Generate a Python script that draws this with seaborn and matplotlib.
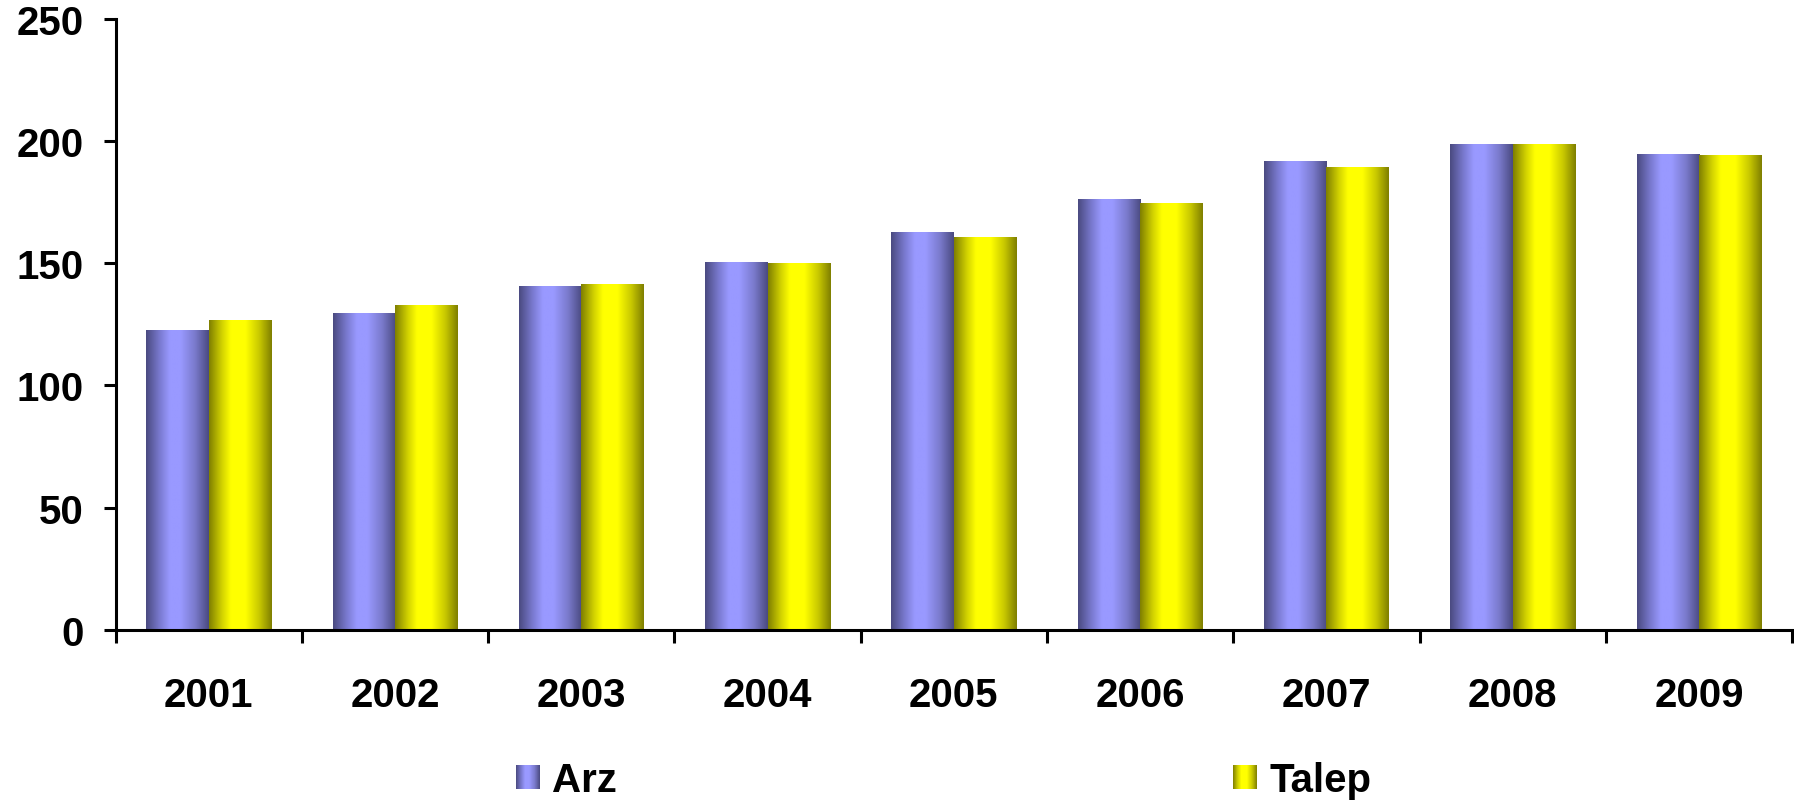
import numpy as np
import pandas as pd
import matplotlib
matplotlib.use("Agg")
import matplotlib.pyplot as plt
from matplotlib.colors import LinearSegmentedColormap
from matplotlib.patches import Rectangle
from matplotlib.legend_handler import HandlerBase
from matplotlib.ticker import MultipleLocator, FixedLocator
import seaborn as sns

years = ["2001", "2002", "2003", "2004", "2005", "2006", "2007", "2008", "2009"]
arz = [122.5, 129.4, 140.5, 150.3, 162.3, 176.1, 191.6, 198.6, 194.5]
talep = [126.5, 132.7, 141.4, 149.8, 160.6, 174.4, 189.2, 198.6, 194.1]
series_names = ["Arz", "Talep"]

# cylinder-like shading: dark edge -> light band -> dark edge
shade = {
    "Arz": LinearSegmentedColormap.from_list(
        "arz", [(0.0, "#4a4a80"), (0.22, "#7a7ad0"), (0.38, "#9999ff"),
                (0.55, "#9999ff"), (0.78, "#7a7acc"), (1.0, "#4a4a80")]),
    "Talep": LinearSegmentedColormap.from_list(
        "talep", [(0.0, "#7f7f00"), (0.2, "#d0d000"), (0.35, "#ffff00"),
                  (0.58, "#ffff00"), (0.8, "#c8c800"), (1.0, "#7f7f00")]),
}
base = {"Arz": "#9999ff", "Talep": "#ffff00"}

df = pd.DataFrame({
    "year": years * 2,
    "value": arz + talep,
    "series": ["Arz"] * len(years) + ["Talep"] * len(years),
})

sns.set_theme(style="white")
plt.rcParams["font.family"] = ["Liberation Sans", "DejaVu Sans"]
plt.rcParams["font.weight"] = "bold"
plt.rcParams["text.color"] = "black"
plt.rcParams["xtick.color"] = "black"
plt.rcParams["ytick.color"] = "black"
FS = 29

fig = plt.figure(figsize=(17.94, 8.03), dpi=100)
ax = fig.add_axes([0.0644, 0.214, 0.9346, 0.7617])

sns.barplot(data=df, x="year", y="value", hue="series", order=years,
            hue_order=series_names, palette=base, width=0.67, gap=0,
            linewidth=0, saturation=1, legend=False, ax=ax)

grad = np.linspace(0, 1, 256).reshape(1, -1)
for cont, name in zip(ax.containers, series_names):
    for bar in cont:
        x0, y0 = bar.get_x(), bar.get_y()
        w, h = bar.get_width(), bar.get_height()
        ax.imshow(grad, cmap=shade[name], aspect="auto",
                  extent=[x0, x0 + w, y0, y0 + h], interpolation="bilinear",
                  zorder=bar.get_zorder() + 0.1)

ax.set_xlim(-0.5, len(years) - 0.5)
ax.set_ylim(0, 250)
ax.yaxis.set_major_locator(MultipleLocator(50))
ax.set_xlabel("")
ax.set_ylabel("")

for side in ("top", "right"):
    ax.spines[side].set_visible(False)
for side in ("left", "bottom"):
    ax.spines[side].set_linewidth(2.2)
    ax.spines[side].set_color("black")

# category boundaries carry the x tick marks
ax.xaxis.set_minor_locator(FixedLocator(np.arange(-0.5, len(years), 1.0)))
ax.tick_params(axis="x", which="major", length=0, pad=33, labelsize=FS,
               labelcolor="black")
ax.tick_params(axis="x", which="minor", direction="out", length=9,
               width=2.2, color="black", bottom=True)
ax.tick_params(axis="y", which="major", direction="out", length=9,
               width=2.2, color="black", left=True, pad=14, labelsize=FS,
               labelcolor="black")
for lab in ax.get_xticklabels() + ax.get_yticklabels():
    lab.set_fontweight("bold")


class GradientHandler(HandlerBase):
    def __init__(self, cmap, steps=24):
        super().__init__()
        self.cmap = cmap
        self.steps = steps

    def create_artists(self, legend, orig_handle, xdescent, ydescent,
                       width, height, fontsize, trans):
        side = min(width, height)
        x0 = -xdescent + (width - side) / 2
        y0 = -ydescent + (height - side) / 2
        dw = side / self.steps
        arts = []
        for i in range(self.steps):
            r = Rectangle((x0 + i * dw, y0), dw * 1.05, side,
                          facecolor=self.cmap((i + 0.5) / self.steps),
                          edgecolor="none", transform=trans)
            arts.append(r)
        return arts


handles = [Rectangle((0, 0), 1, 1, facecolor=base[n]) for n in series_names]
fig.legend(handles, series_names, loc="center", bbox_to_anchor=(0.526, 0.027),
           ncol=2, frameon=False, handlelength=0.6,
           handleheight=0.6, handletextpad=0.3, columnspacing=15.3,
           prop={"weight": "bold", "size": FS}, labelcolor="black",
           handler_map={handles[0]: GradientHandler(shade["Arz"]),
                        handles[1]: GradientHandler(shade["Talep"])})

fig.savefig("out.png", dpi=100)
